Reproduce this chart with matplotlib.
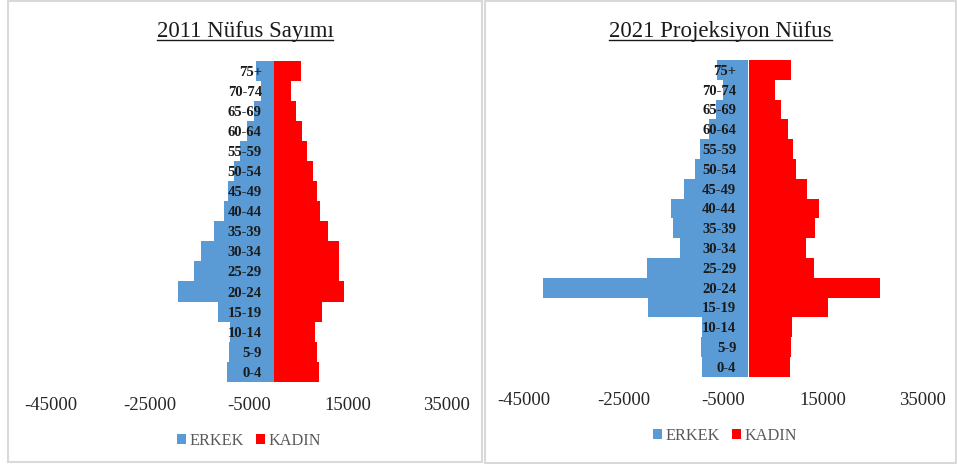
import matplotlib
matplotlib.use('Agg')
import matplotlib.pyplot as plt
from matplotlib.patches import Rectangle, Patch
from matplotlib.lines import Line2D

plt.rcParams['font.family'] = ['Liberation Serif', 'DejaVu Serif']

ages = ['0-4', '5-9', '10-14', '15-19', '20-24', '25-29', '30-34', '35-39',
        '40-44', '45-49', '50-54', '55-59', '60-64', '65-69', '70-74', '75+']

# 2011 sayim
erkek_2011 = [9500, 9000, 8800, 11200, 19300, 16200, 14700, 12000,
              10000, 9200, 8000, 6750, 5400, 4000, 2600, 3600]
kadin_2011 = [8900, 8550, 8200, 9550, 14100, 13100, 13050, 10900,
              9150, 8500, 7700, 6500, 5500, 4350, 3350, 5300]

# 2021 projeksiyon
erkek_2021 = [9200, 9550, 9350, 20200, 41200, 20400, 13800, 15200,
              15600, 12800, 10700, 9700, 7800, 6500, 5100, 6300]
kadin_2021 = [8250, 8550, 8650, 15850, 26300, 13100, 11550, 13200,
              14000, 11600, 9550, 8800, 7800, 6400, 5250, 8500]

xticks = [-45000, -25000, -5000, 15000, 35000]

BLUE = '#5B9BD5'
RED = '#FF0000'
W, H = 957, 466

fig = plt.figure(figsize=(W / 100, H / 100), dpi=100)


def px(x0, y0, x1, y1):
    # pixel box -> figure fraction [left, bottom, width, height]
    return [x0 / W, 1 - y1 / H, (x1 - x0) / W, (y1 - y0) / H]


def panel(box, axbox, title, erkek, kadin, title_y, leg_x, leg_y):
    fig.patches.append(Rectangle((box[0] / W, 1 - box[3] / H),
                                 (box[2] - box[0]) / W, (box[3] - box[1]) / H,
                                 transform=fig.transFigure, fill=False,
                                 edgecolor='#d9d9d9', linewidth=1.5))
    ax = fig.add_axes(px(*axbox))
    ax.spines['left'].set_position(('data', 0))
    for s in ax.spines.values():
        s.set_visible(False)
    ax.tick_params(axis='x', length=0, pad=10.8, labelsize=13.5,
                   labelcolor='#262626')
    ax.tick_params(axis='y', length=0, pad=8.6, labelsize=10.5,
                   labelcolor='#1a1a1a')

    y = range(len(ages))
    ax.barh(y, [-v for v in erkek], height=1.0, color=BLUE, linewidth=0)
    ax.barh(y, kadin, height=1.0, color=RED, linewidth=0, left=150)
    ax.set_xlim(-45000, 35000)
    ax.set_ylim(-0.5, len(ages) - 0.5)
    ax.set_xticks(xticks)
    ax.set_xticklabels([str(t) for t in xticks])
    ax.set_yticks(list(y))
    ax.set_yticklabels(ages, fontweight='bold')

    cx = (box[0] + box[2]) / 2
    t = fig.text(cx / W, 1 - title_y / H, title, fontsize=16.5, ha='center',
                 va='center', color='#1a1a1a')
    fig.canvas.draw()
    bb = t.get_window_extent()
    uy = bb.y0 + 2
    fig.lines.append(Line2D([bb.x0 / W, bb.x1 / W], [uy / H, uy / H],
                            transform=fig.transFigure, color='#1a1a1a',
                            linewidth=1.0))

    handles = [Patch(facecolor=BLUE, label='ERKEK'),
               Patch(facecolor=RED, label='KADIN')]
    ax.legend(handles=handles, loc='center', ncol=2, frameon=False,
              bbox_to_anchor=(leg_x / W, 1 - leg_y / H),
              bbox_transform=fig.transFigure, fontsize=11.7,
              labelcolor='#595959', handlelength=0.55, handleheight=0.55,
              handletextpad=0.2, columnspacing=0.8)


panel((8, 1, 482, 462), (51, 61, 447, 381.7), '2011 Nüfus Sayımı',
      erkek_2011, kadin_2011, 31.5, 249, 441)
panel((485, 1, 956, 463), (524.3, 60, 922.3, 376.7), '2021 Projeksiyon Nüfus',
      erkek_2021, kadin_2021, 31.5, 725, 436)

fig.savefig('out.png', dpi=100)
